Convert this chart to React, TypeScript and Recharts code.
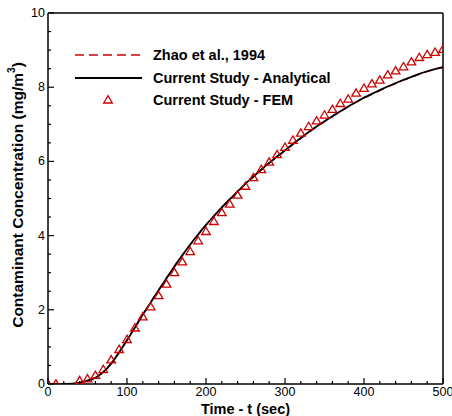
import {
  ComposedChart,
  Line,
  Scatter,
  XAxis,
  YAxis,
  ReferenceLine,
} from 'recharts';

const FONT = 'Arial, "Liberation Sans", sans-serif';
const RED = '#cc0000';

const times = [
  0, 10, 20, 30, 40, 50, 60, 70, 80, 90, 100, 110, 120, 130, 140, 150, 160, 170, 180, 190, 200,
  210, 220, 230, 240, 250, 260, 270, 280, 290, 300, 310, 320, 330, 340, 350, 360, 370, 380, 390,
  400, 410, 420, 430, 440, 450, 460, 470, 480, 490, 500,
];

const analytical = [
  0, 0, 0, 0.01, 0.04, 0.09, 0.17, 0.32, 0.55, 0.85, 1.18, 1.52, 1.87, 2.2, 2.53, 2.85, 3.17,
  3.47, 3.76, 4.03, 4.29, 4.53, 4.76, 4.98, 5.19, 5.4, 5.59, 5.78, 5.96, 6.13, 6.3, 6.47, 6.63,
  6.79, 6.94, 7.08, 7.22, 7.35, 7.48, 7.6, 7.72, 7.82, 7.92, 8.02, 8.11, 8.2, 8.28, 8.36, 8.43,
  8.49, 8.54,
];

const zhao = [
  0, 0, 0, 0.01, 0.04, 0.09, 0.18, 0.33, 0.56, 0.86, 1.19, 1.53, 1.87, 2.2, 2.53, 2.85, 3.16,
  3.46, 3.75, 4.02, 4.28, 4.52, 4.75, 4.97, 5.18, 5.39, 5.58, 5.77, 5.95, 6.12, 6.29, 6.46, 6.62,
  6.78, 6.93, 7.07, 7.21, 7.34, 7.47, 7.59, 7.71, 7.81, 7.91, 8.01, 8.1, 8.19, 8.27, 8.35, 8.42,
  8.48, 8.53,
];

// FEM results (no markers shown at t = 20 and 30)
const fem = [
  0, 0, null, null, 0.09, 0.14, 0.23, 0.39, 0.65, 0.93, 1.2, 1.51, 1.81, 2.08, 2.38, 2.69, 3.0,
  3.29, 3.57, 3.86, 4.11, 4.38, 4.62, 4.85, 5.09, 5.33, 5.56, 5.78, 5.98, 6.18, 6.38, 6.57, 6.76,
  6.94, 7.09, 7.25, 7.4, 7.56, 7.68, 7.84, 7.97, 8.09, 8.19, 8.33, 8.44, 8.55, 8.68, 8.8, 8.88,
  8.94, 9.02,
];

const xTicks = Array.from({ length: 26 }, (_, i) => i * 20);
const yTicks = Array.from({ length: 21 }, (_, i) => i * 0.5);

const lineData = times.map((t, i) => ({ t, analytical: analytical[i], zhao: zhao[i] }));
const femData = times
  .map((t, i) => ({ t, fem: fem[i] }))
  .filter((d) => d.fem !== null);

function XTick({ x, y, payload }: any) {
  const major = payload.value % 100 === 0;
  return (
    <g>
      <line x1={x} y1={y} x2={x} y2={y - (major ? 6 : 3)} stroke="#000" strokeWidth={1.2} />
      {major && (
        <text x={x} y={y + 12} textAnchor="middle" fontSize={12.5} fontFamily={FONT} fill="#000">
          {payload.value}
        </text>
      )}
    </g>
  );
}

function YTick({ x, y, payload }: any) {
  const major = payload.value % 2 === 0;
  return (
    <g>
      <line x1={x} y1={y} x2={x + (major ? 6 : 3)} y2={y} stroke="#000" strokeWidth={1.2} />
      {major && (
        <text x={x - 3} y={y + 4} textAnchor="end" fontSize={12.5} fontFamily={FONT} fill="#000">
          {payload.value}
        </text>
      )}
    </g>
  );
}

function Triangle({ cx, cy }: any) {
  if (cx == null || cy == null) return null;
  const w = 4.3;
  return (
    <path
      d={`M${cx},${cy - 4.3} L${cx + w},${cy + 3} L${cx - w},${cy + 3} Z`}
      fill="none"
      stroke={RED}
      strokeWidth={1.3}
    />
  );
}

function YTitle() {
  return (
    <text
      x={17}
      y={195}
      transform="rotate(-90 17 195)"
      textAnchor="middle"
      dominantBaseline="central"
      fontSize={15.5}
      fontWeight="bold"
      fontFamily={FONT}
      fill="#000"
    >
      Contaminant Concentration (mg/m
      <tspan dy={-6} fontSize={10}>3</tspan>
      <tspan dy={6}>)</tspan>
    </text>
  );
}

export default function App() {
  return (
    <div style={{ position: 'absolute', left: 0, top: 0, width: 452, height: 416, background: '#fff' }}>
      <ComposedChart
        width={452}
        height={416}
        margin={{ top: 13, right: 9, left: 0, bottom: 0 }}
      >
        <XAxis
          dataKey="t"
          type="number"
          domain={[0, 500]}
          ticks={xTicks}
          interval={0}
          height={32}
          tickSize={0}
          tickMargin={0}
          tick={<XTick />}
          axisLine={{ stroke: '#000', strokeWidth: 1.5 }}
          tickLine={false}
          allowDataOverflow
          label={{
            value: 'Time - t (sec)',
            position: 'insideBottom',
            offset: 2,
            style: { fontSize: 14.5, fontWeight: 'bold', fontFamily: FONT, fill: '#000' },
          }}
        />
        <YAxis
          type="number"
          domain={[0, 10]}
          ticks={yTicks}
          interval={0}
          width={48}
          tickSize={0}
          tickMargin={0}
          tick={<YTick />}
          axisLine={{ stroke: '#000', strokeWidth: 1.5 }}
          tickLine={false}
          allowDataOverflow
          label={<YTitle />}
        />
        <ReferenceLine y={10} stroke="#000" strokeWidth={1.5} />
        <ReferenceLine x={500} stroke="#000" strokeWidth={1.5} />
        <Line
          data={lineData}
          dataKey="zhao"
          type="monotone"
          stroke={RED}
          strokeWidth={1.5}
          strokeDasharray="8 5"
          dot={false}
          isAnimationActive={false}
        />
        <Line
          data={lineData}
          dataKey="analytical"
          type="monotone"
          stroke="#000"
          strokeWidth={1.8}
          dot={false}
          isAnimationActive={false}
        />
        <Scatter
          data={femData}
          dataKey="fem"
          shape={<Triangle />}
          isAnimationActive={false}
        />
      </ComposedChart>
      <svg
        width={452}
        height={416}
        style={{ position: 'absolute', left: 0, top: 0, pointerEvents: 'none' }}
        fontFamily={FONT}
      >
        <line x1={75} y1={55} x2={142} y2={55} stroke={RED} strokeWidth={1.5} strokeDasharray="9 5" />
        <text x={153} y={60} fontSize={14.5} fontWeight="bold" fill="#000">Zhao et al., 1994</text>
        <line x1={75} y1={78} x2={142} y2={78} stroke="#000" strokeWidth={1.8} />
        <text x={153} y={83} fontSize={14.5} fontWeight="bold" fill="#000">Current Study - Analytical</text>
        <Triangle cx={108} cy={100} />
        <text x={153} y={105} fontSize={14.5} fontWeight="bold" fill="#000">Current Study - FEM</text>
      </svg>
    </div>
  );
}
